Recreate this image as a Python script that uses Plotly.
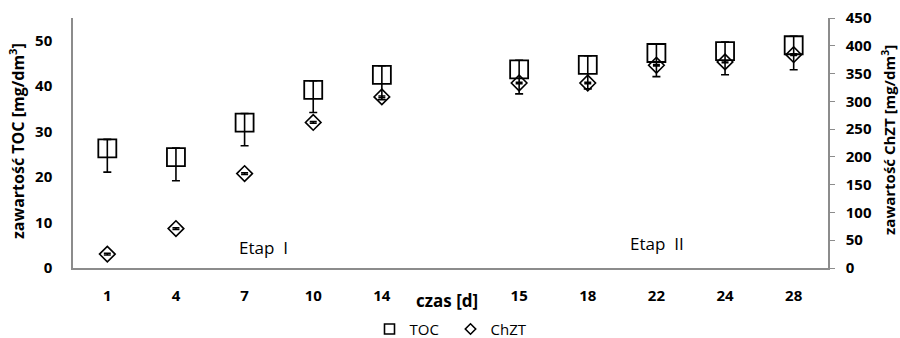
import plotly.graph_objects as go

# ---- data ----
categories = ["1", "4", "7", "10", "14", "", "15", "18", "22", "24", "28"]
toc = [26.3, 24.4, 32.0, 39.2, 42.5, None, 43.7, 44.7, 47.3, 47.7, 49.0]
toc_err_plus = [2.0, 2.0, 2.0, 2.0, 2.0, None, 2.0, 2.0, 2.0, 2.0, 2.0]
toc_err_minus = [5.2, 5.2, 5.1, 5.0, 5.5, None, 5.4, 5.3, 5.2, 5.2, 5.4]
chzt = [25, 71, 170, 262, 308, None, 333, 333, 365, 371, 384]
chzt_err = [1.5, 1.5, 1.5, 1.5, 1.5, None, 1.5, 1.5, 1.5, 1.5, 1.5]
left_ticks = [0, 10, 20, 30, 40, 50]
right_ticks = [0, 50, 100, 150, 200, 250, 300, 350, 400, 450]

xpos = list(range(len(categories)))
FONT = "Open Sans"
AX = "#8c8c8c"
L, R, T, B = 73, 72, 18, 70
PW, PH = 900 - L - R, 338 - T - B

fig = go.Figure()

fig.add_trace(go.Scatter(
    x=xpos, y=toc, mode="markers", showlegend=False,
    marker=dict(symbol="square-open", size=18, color="black", line=dict(width=1.8, color="black")),
    error_y=dict(type="data", symmetric=False, array=toc_err_plus, arrayminus=toc_err_minus,
                 color="black", thickness=1.6, width=4),
    yaxis="y",
))
fig.add_trace(go.Scatter(
    x=xpos, y=chzt, mode="markers", showlegend=False,
    marker=dict(symbol="diamond-open", size=12, color="black", line=dict(width=1.6, color="black")),
    error_y=dict(type="data", array=chzt_err, color="black", thickness=1.5, width=3.5),
    yaxis="y2",
))
# legend entries (small symbols)
fig.add_trace(go.Scatter(x=[None], y=[None], mode="markers", name="TOC",
                         marker=dict(symbol="square-open", size=10, color="black",
                                     line=dict(width=1.6, color="black"))))
fig.add_trace(go.Scatter(x=[None], y=[None], mode="markers", name="ChZT",
                         marker=dict(symbol="diamond-open", size=8, color="black",
                                     line=dict(width=1.6, color="black"))))

fig.update_layout(
    width=900, height=338,
    margin=dict(l=L, r=R, t=T, b=B, autoexpand=False),
    paper_bgcolor="white", plot_bgcolor="white",
    font=dict(family=FONT, size=13, color="black"),
    showlegend=True,
    legend=dict(orientation="h", x=0.5, xanchor="center", y=-0.245, yanchor="middle",
                font=dict(family=FONT, size=15, color="black"),
                itemwidth=30, tracegroupgap=0, bgcolor="rgba(0,0,0,0)",
                entrywidth=36, entrywidthmode="pixels"),
    xaxis=dict(
        range=[-0.5, len(categories) - 0.5], tickmode="array", tickvals=xpos, ticktext=categories,
        showgrid=False, zeroline=False, showline=True, linecolor=AX, linewidth=1.5,
        ticks="", ticklabelstandoff=13, automargin=False,
        tickfont=dict(family=FONT, size=15, color="black", weight="bold"),
    ),
    yaxis=dict(
        range=[0, 55], tickmode="array", tickvals=left_ticks,
        showgrid=False, zeroline=False, showline=True, linecolor=AX, linewidth=1.5,
        ticks="", ticklabelstandoff=16, automargin=False,
        tickfont=dict(family=FONT, size=15, color="black", weight="bold"),
    ),
    yaxis2=dict(
        range=[0, 450], tickmode="array", tickvals=right_ticks, overlaying="y", side="right",
        showgrid=False, zeroline=False, showline=True, linecolor=AX, linewidth=1.5,
        ticks="outside", ticklen=5, tickcolor=AX, tickwidth=1.2, ticklabelstandoff=8,
        automargin=False,
        tickfont=dict(family=FONT, size=15, color="black", weight="bold"),
    ),
)

# text positions in pixels -> plot-area paper coordinates
annots = [
    ("zawartość TOC [mg/dm<sup>3</sup>]", 17, 141, -90, 16),
    ("zawartość ChZT [mg/dm<sup>3</sup>]", 888, 140, -90, 15),
    ("czas [d]", 447, 300, 0, 17),
]
for text, px, py, ang, fs in annots:
    fig.add_annotation(
        text=text, x=(px - L) / PW, y=(338 - B - py) / PH, xref="paper", yref="paper",
        showarrow=False, textangle=ang, xanchor="center", yanchor="middle",
        font=dict(family=FONT, size=fs, color="black", weight="bold"),
    )

fig.add_annotation(text="Etap\u00a0\u00a0I", x=(263 - L) / PW, y=4.6, xref="paper", yref="y",
                   xanchor="center", yanchor="middle",
                   showarrow=False, font=dict(family=FONT, size=17, color="black"))
fig.add_annotation(text="Etap\u00a0\u00a0II", x=(657 - L) / PW, y=5.3, xref="paper", yref="y",
                   xanchor="center", yanchor="middle",
                   showarrow=False, font=dict(family=FONT, size=17, color="black"))

fig.write_html("out.html")
